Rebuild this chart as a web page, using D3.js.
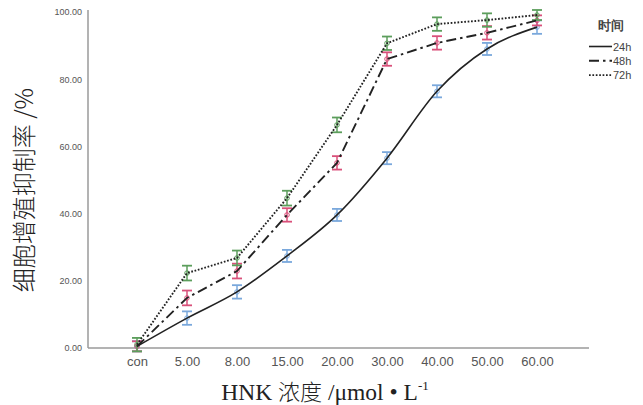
<!DOCTYPE html>
<html><head><meta charset="utf-8">
<script src="https://cdn.jsdelivr.net/npm/d3@7"></script>
<style>body{margin:0;background:#fff}</style>
</head><body><svg id="c" width="643" height="405"></svg>
<script>
const categories = ["con","5.00","8.00","15.00","20.00","30.00","40.00","50.00","60.00"];
const series24 = [0.5, 8.9, 16.7, 27.4, 39.6, 56.5, 76.4, 89.0, 95.5];
const series48 = [0.5, 14.9, 22.9, 39.6, 55.1, 86.0, 90.8, 93.8, 97.5];
const series72 = [1.0, 22.3, 26.8, 44.6, 66.4, 90.7, 96.4, 97.6, 99.1];
const err24 = [1.5, 2.0, 2.0, 1.8, 1.8, 1.8, 1.8, 1.8, 2.0];
const err48 = [1.5, 2.2, 2.2, 2.0, 2.0, 2.0, 2.0, 2.0, 1.5];
const err72 = [2.0, 2.2, 2.2, 2.2, 2.2, 2.0, 2.0, 2.0, 1.5];
const seriesNames = ["24h","48h","72h"];
const yTicks = [0,20,40,60,80,100];

const svg = d3.select("#c");
const x = d3.scalePoint().domain(categories).range([137, 537]);
const y = d3.scaleLinear().domain([0,100]).range([348, 12]);

const axisColor = "#9a9a9a";
svg.append("line").attr("x1",88).attr("x2",88).attr("y1",10).attr("y2",348).attr("stroke",axisColor).attr("stroke-width",1.5);
svg.append("line").attr("x1",88).attr("x2",589).attr("y1",348).attr("y2",348).attr("stroke",axisColor).attr("stroke-width",1.5);

const yAxis = d3.axisLeft(y).tickValues(yTicks).tickFormat(d3.format(".2f")).tickSize(0).tickPadding(6);
const gy = svg.append("g").attr("transform","translate(88,0)").call(yAxis);
gy.select(".domain").remove();
gy.selectAll("text").attr("font-family","Arial, Liberation Sans, sans-serif").attr("font-size",9).attr("fill","#555");

const xAxis = d3.axisBottom(x).tickSize(0).tickPadding(9);
const gx = svg.append("g").attr("transform","translate(0,348)").call(xAxis);
gx.select(".domain").remove();
gx.selectAll("text").attr("font-family","Arial, Liberation Sans, sans-serif").attr("font-size",13).attr("fill","#555");

const defs = [
  {vals: series24, errs: err24, color:"#7aa8dc", dash:null, w:1.6, curve:d3.curveMonotoneX},
  {vals: series48, errs: err48, color:"#d9507a", dash:"10,4,2.5,4", w:1.9, curve:d3.curveLinear},
  {vals: series72, errs: err72, color:"#5c9e5c", dash:"1.7,1.7", w:1.9, curve:d3.curveLinear}
];

defs.forEach(s => {
  const g = svg.append("g");
  s.vals.forEach((v,i) => {
    const cx = x(categories[i]), e = s.errs[i];
    g.append("line").attr("x1",cx).attr("x2",cx).attr("y1",y(v+e)).attr("y2",y(v-e)).attr("stroke",s.color).attr("stroke-width",1.5);
    [v+e, v-e].forEach(t => g.append("line").attr("x1",cx-5).attr("x2",cx+5).attr("y1",y(t)).attr("y2",y(t)).attr("stroke",s.color).attr("stroke-width",1.8));
    g.append("circle").attr("cx",cx).attr("cy",y(v)).attr("r",2.3).attr("fill","none").attr("stroke",s.color).attr("stroke-width",1);
  });
});
defs.forEach(s => {
  const line = d3.line().x((d,i)=>x(categories[i])).y(d=>y(d)).curve(s.curve);
  svg.append("path").datum(s.vals).attr("d",line).attr("fill","none").attr("stroke","#222")
    .attr("stroke-width",s.w).attr("stroke-dasharray",s.dash);
});

const lg = svg.append("g").attr("font-family","Arial, Liberation Sans, sans-serif");
lg.append("text").attr("x",611).attr("y",30).attr("text-anchor","middle").attr("font-size",12.5).attr("font-weight","bold").attr("fill","#444").text("时间");
seriesNames.forEach((n,i) => {
  const yy = 46.5 + i*14.3;
  lg.append("line").attr("x1",589).attr("x2",612).attr("y1",yy).attr("y2",yy).attr("stroke","#222").attr("stroke-width",defs[i].w).attr("stroke-dasharray",defs[i].dash);
  lg.append("text").attr("x",613).attr("y",yy+4).attr("font-size",11).attr("fill","#444").text(n);
});

svg.append("text").attr("transform","translate(33,190) rotate(-90)").attr("text-anchor","middle")
  .attr("font-family","Noto Sans CJK SC, serif").attr("font-weight",300).attr("font-size",24).attr("fill","#222").text("细胞增殖抑制率 /%");
const xt = svg.append("text").attr("x",325).attr("y",400).attr("text-anchor","middle")
  .attr("font-family","Liberation Serif, Noto Sans CJK SC, serif").attr("font-size",23.5).attr("fill","#222");
xt.append("tspan").text("HNK ");
xt.append("tspan").attr("font-family","Noto Sans CJK SC").attr("font-weight",300).attr("font-size",22).text("浓度");
xt.append("tspan").text(" /μmol • L");
xt.append("tspan").attr("dy",-10).attr("font-size",13).text("-1");
</script></body></html>
